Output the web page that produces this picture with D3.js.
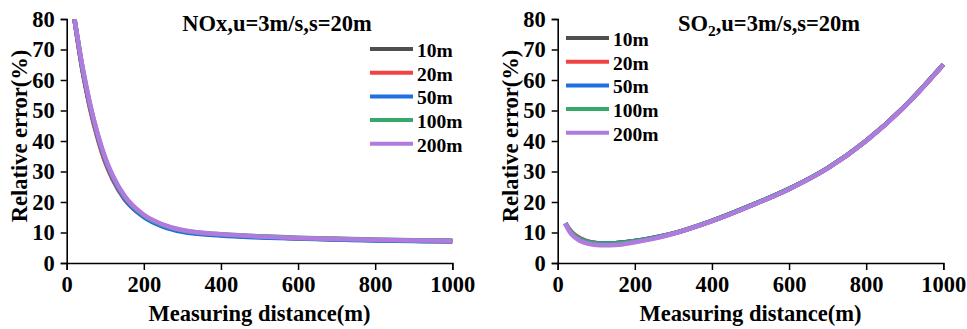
<!DOCTYPE html>
<html>
<head>
<meta charset="utf-8">
<script src="https://cdn.jsdelivr.net/npm/d3@7"></script>
<style>
  body { margin: 0; background: #fff; }
  svg { display: block; }
  svg text { font-family: "Liberation Serif", "Times New Roman", serif !important; font-weight: bold; fill: #000; }
</style>
</head>
<body>
<div id="chart"></div>
<script>
// 测量距离 (m)
const distance = [20, 30, 40, 50, 60, 80, 100, 120, 150, 200, 250, 300, 400, 500, 600, 700, 800, 900, 1000]
const seriesNames = ['10m', '20m', '50m', '100m', '200m']
const colors = ['#4f4f4f', '#f04343', '#1e6fe0', '#35a86a', '#b07ade']

// NOx 相对误差 (%)
const nox10 = [80, 71.8, 64, 57.4, 51.4, 41.4, 33.4, 27.5, 21.1, 15.3, 12.2, 10.5, 9.2, 8.6, 8.1, 7.8, 7.5, 7.3, 7.1]
const nox20 = [80, 71.6, 63.8, 57.1, 51.0, 41.0, 33.0, 27.2, 20.9, 15.2, 12.1, 10.5, 9.2, 8.6, 8.1, 7.8, 7.5, 7.3, 7.2]
const nox50 = [80, 72, 64.3, 57.7, 51.7, 41.7, 33.7, 27.7, 21.2, 15.1, 11.9, 10.2, 9.0, 8.4, 8.0, 7.7, 7.4, 7.2, 7.1]
const nox100 = [80, 72.3, 64.7, 58.2, 52.2, 42.2, 34.2, 28.2, 21.7, 15.6, 12.4, 10.7, 9.4, 8.8, 8.3, 8.0, 7.7, 7.5, 7.4]
const nox200 = [80, 72.5, 65, 58.5, 52.5, 42.5, 34.5, 28.5, 22, 15.8, 12.6, 10.8, 9.4, 8.7, 8.2, 7.9, 7.6, 7.4, 7.3]

// SO2 相对误差 (%)
const so10 = [13, 10.9, 9.5, 8.5, 7.8, 6.9, 6.5, 6.4, 6.5, 7.2, 8.3, 9.7, 13.8, 18.8, 24.3, 31.1, 40.1, 51.4, 65.1]
const so20 = [13, 11.0, 9.7, 8.7, 8.0, 7.0, 6.6, 6.4, 6.5, 7.2, 8.3, 9.7, 13.8, 18.8, 24.3, 31.1, 40.1, 51.4, 65.1]
const so50 = [13, 10.9, 9.5, 8.5, 7.8, 6.9, 6.5, 6.4, 6.5, 7.2, 8.3, 9.7, 13.8, 18.8, 24.3, 31.1, 40.1, 51.4, 65.1]
const so100 = [13, 10.8, 9.4, 8.4, 7.7, 6.8, 6.4, 6.3, 6.4, 7.1, 8.2, 9.7, 13.8, 18.8, 24.3, 31.1, 40.1, 51.4, 65.1]
const so200 = [13, 10.4, 8.9, 7.9, 7.1, 6.3, 5.9, 5.8, 5.9, 6.8, 8.0, 9.6, 13.7, 18.7, 24.2, 31, 40, 51.3, 65]

const xTicks = [0, 200, 400, 600, 800, 1000]
const yTicks = [0, 10, 20, 30, 40, 50, 60, 70, 80]

const width = 967, height = 329
const svg = d3.select('#chart').append('svg')
  .attr('width', width)
  .attr('height', height)

function drawPanel(opt) {
  const x = d3.scaleLinear().domain([0, 1000]).range([opt.left, opt.left + 385.6])
  const y = d3.scaleLinear().domain([0, 80]).range([263, 19])
  const g = svg.append('g')

  // 裁剪区域
  g.append('clipPath').attr('id', opt.id + '-clip')
    .append('rect')
    .attr('x', x(0)).attr('y', y(80))
    .attr('width', x(1000) - x(0) + 4).attr('height', y(0) - y(80))

  // 曲线
  const line = d3.line()
    .x((d, i) => x(distance[i]))
    .y(d => y(d))
    .curve(d3.curveMonotoneX)

  g.append('g').attr('clip-path', 'url(#' + opt.id + '-clip)')
    .selectAll('path').data(opt.series).enter().append('path')
    .attr('d', d => line(d))
    .attr('fill', 'none')
    .attr('stroke', (d, i) => colors[i])
    .attr('stroke-width', 4.5)
    .attr('stroke-linejoin', 'round')

  // x轴 主刻度 + 次刻度
  const xAxis = g.append('g').attr('transform', 'translate(0,' + y(0) + ')')
  xAxis.call(d3.axisBottom(x).tickValues(d3.range(100, 1000, 200)).tickSize(4).tickFormat(''))
  xAxis.call(d3.axisBottom(x).tickValues(xTicks).tickSize(7).tickPadding(6).tickFormat(d3.format('d')))
  xAxis.selectAll('path.domain').attr('stroke-width', 1.6)
  xAxis.selectAll('line').attr('stroke-width', 1.5)
  xAxis.selectAll('text').attr('font-size', 22.5)

  // y轴
  const yAxis = g.append('g').attr('transform', 'translate(' + x(0) + ',0)')
  yAxis.call(d3.axisLeft(y).tickValues(d3.range(5, 80, 10)).tickSize(4).tickFormat(''))
  yAxis.call(d3.axisLeft(y).tickValues(yTicks).tickSize(6).tickPadding(6).tickFormat(d3.format('d')))
  yAxis.selectAll('path.domain').attr('stroke-width', 1.6)
  yAxis.selectAll('line').attr('stroke-width', 1.5)
  yAxis.selectAll('text').attr('font-size', 22.5)

  // 轴标题
  g.append('text')
    .attr('x', (x(0) + x(1000)) / 2).attr('y', 321)
    .attr('text-anchor', 'middle')
    .attr('font-size', 22.5)
    .text('Measuring distance(m)')

  g.append('text')
    .attr('transform', 'translate(' + (x(0) - 48) + ',' + 136 + ') rotate(-90)')
    .attr('dy', '0.35em')
    .attr('text-anchor', 'middle')
    .attr('font-size', 22.5)
    .text('Relative error(%)')

  // 标题
  const title = g.append('text')
    .attr('x', opt.titleX).attr('y', 31)
    .attr('text-anchor', 'middle')
    .attr('font-size', 22.5)
  title.append('tspan').text(opt.title[0])
  if (opt.title.length > 1) {
    title.append('tspan').attr('font-size', 15.5).attr('dy', 5).text(opt.title[1])
    title.append('tspan').attr('dy', -5).text(opt.title[2])
  }

  // 图例
  const legend = g.selectAll('.legend').data(seriesNames).enter().append('g')
    .attr('transform', (d, i) => 'translate(' + opt.legendX + ',' + (opt.legendY + i * 23.7) + ')')
  legend.append('line')
    .attr('x1', 0).attr('x2', 43)
    .attr('stroke', (d, i) => colors[i])
    .attr('stroke-width', 4)
  legend.append('text')
    .attr('x', 47).attr('y', 1)
    .attr('dy', '0.35em')
    .attr('font-size', 19.5)
    .text(d => d)
}

drawPanel({
  id: 'nox', left: 66.7,
  series: [nox10, nox20, nox50, nox100, nox200],
  title: ['NOx,u=3m/s,s=20m'], titleX: 277,
  legendX: 370, legendY: 49
})

drawPanel({
  id: 'so2', left: 557.7,
  series: [so10, so20, so50, so100, so200],
  title: ['SO', '2', ',u=3m/s,s=20m'], titleX: 769,
  legendX: 566, legendY: 38
})
</script>
</body>
</html>
